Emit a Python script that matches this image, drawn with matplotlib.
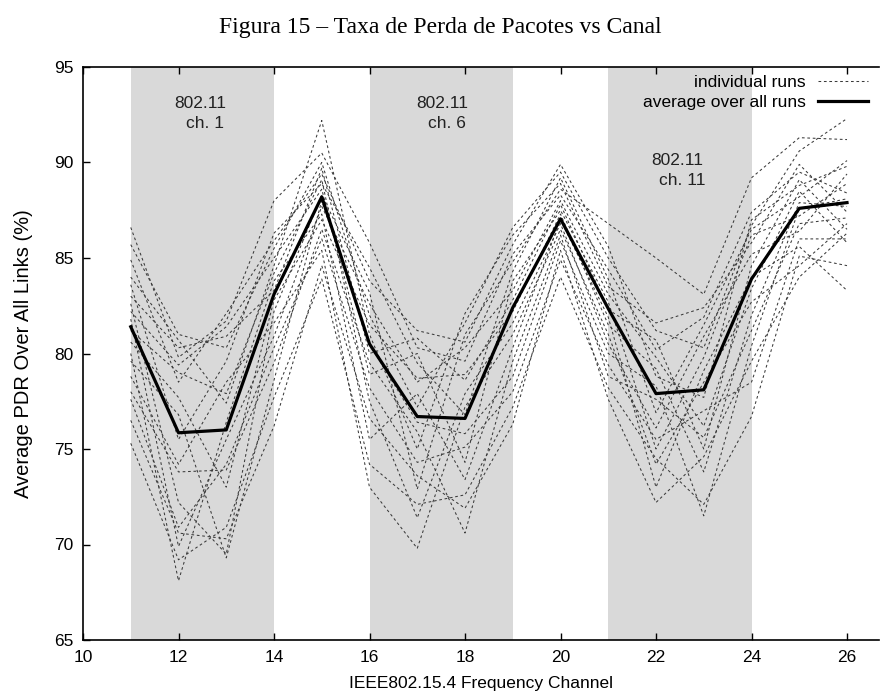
import matplotlib
matplotlib.use("Agg")
import matplotlib.pyplot as plt

# IEEE 802.15.4 channels on the x axis
channels = list(range(11, 27))

# PDR (%) of every single run, one row per run
runs = [
    [86.6, 79.8, 81.7, 88.0, 90.5, 85.8, 80.3, 79.6, 85.2, 88.3, 84.4, 80.2, 81.9, 87.4, 89.5, 88.4],
    [85.7, 81.0, 80.3, 85.5, 90.0, 82.0, 77.2, 81.6, 86.6, 89.5, 85.0, 81.2, 80.3, 86.7, 90.6, 92.3],
    [84.9, 78.5, 82.1, 85.9, 89.4, 83.8, 81.2, 80.6, 85.7, 89.9, 85.6, 78.8, 77.7, 87.0, 88.8, 89.8],
    [84.0, 80.7, 77.4, 84.6, 92.2, 81.0, 75.0, 82.1, 86.2, 88.9, 83.5, 81.6, 82.4, 85.8, 89.9, 87.4],
    [83.6, 75.5, 79.6, 86.3, 88.9, 84.5, 79.5, 76.8, 84.3, 89.2, 83.9, 76.9, 81.5, 86.5, 88.2, 90.1],
    [83.0, 80.3, 80.9, 83.3, 89.7, 80.0, 80.8, 78.6, 82.8, 87.8, 82.3, 80.7, 75.0, 84.6, 89.1, 86.5],
    [82.6, 72.2, 69.5, 82.2, 88.3, 83.2, 72.9, 81.0, 84.8, 88.6, 86.8, 85.0, 83.1, 89.2, 91.3, 91.2],
    [82.2, 79.4, 81.4, 85.0, 88.6, 78.9, 80.0, 74.3, 83.8, 87.5, 82.7, 75.0, 79.8, 86.2, 87.2, 88.9],
    [81.8, 69.9, 75.5, 80.9, 87.7, 82.6, 78.5, 80.3, 83.3, 88.0, 83.1, 79.8, 76.2, 83.4, 88.5, 85.8],
    [81.2, 79.0, 77.9, 84.2, 89.1, 77.5, 71.4, 77.9, 81.6, 86.8, 80.5, 76.1, 80.9, 85.2, 86.4, 89.4],
    [80.6, 77.7, 73.0, 82.8, 87.0, 81.5, 78.7, 78.9, 82.2, 87.3, 81.5, 79.2, 73.8, 82.0, 87.9, 87.7],
    [80.0, 68.1, 76.4, 83.8, 87.3, 75.5, 77.9, 73.4, 80.3, 87.0, 81.9, 73.0, 79.1, 84.0, 85.6, 83.3],
    [79.6, 76.8, 69.3, 78.6, 88.0, 80.5, 76.4, 75.8, 78.8, 85.9, 80.0, 78.3, 71.5, 80.4, 87.6, 88.1],
    [78.8, 74.2, 78.5, 81.6, 85.4, 73.0, 69.8, 77.2, 81.0, 86.5, 81.0, 74.2, 78.5, 82.7, 84.6, 86.8],
    [78.0, 73.8, 73.9, 79.5, 86.5, 79.5, 75.9, 70.6, 79.6, 86.2, 78.8, 77.6, 75.6, 81.2, 86.8, 87.1],
    [77.6, 70.9, 74.2, 80.3, 86.0, 78.2, 74.3, 75.1, 78.0, 84.9, 79.4, 75.5, 77.0, 78.5, 86.0, 86.0],
    [76.5, 70.6, 70.3, 76.2, 84.6, 76.6, 73.6, 71.9, 76.3, 85.4, 77.6, 72.2, 74.6, 79.6, 84.0, 86.3],
    [75.3, 69.2, 70.9, 77.7, 83.9, 74.2, 72.1, 72.6, 77.2, 84.0, 78.2, 74.5, 72.1, 76.7, 85.1, 84.6],
]

# average over all runs
average = [81.4, 75.85, 76.0, 83.1, 88.2, 80.5, 76.7, 76.6, 82.4, 87.05,
           82.35, 77.9, 78.1, 83.9, 87.6, 87.9]

# 802.11 channels and the 802.15.4 range they overlap
wifi_labels = ["ch. 1", "ch. 6", "ch. 11"]
wifi_start = [11, 16, 21]
wifi_end = [14, 19, 24]
wifi_text_x = [12.45, 17.52, 22.45]
wifi_text_y = [93.1, 93.1, 90.1]

xticks = list(range(10, 27, 2))
yticks = list(range(65, 96, 5))

sans = "Liberation Sans"
fs = 12.5

fig = plt.figure(figsize=(8.8, 6.93), dpi=100)
ax = fig.add_axes([83 / 880, 53 / 693, 796 / 880, 573 / 693])

for s, e in zip(wifi_start, wifi_end):
    ax.axvspan(s, e, color="#d9d9d9", lw=0, zorder=0)

for tx, ty, lab in zip(wifi_text_x, wifi_text_y, wifi_labels):
    ax.text(tx, ty, "802.11", ha="center", va="center", fontsize=fs,
            family=sans, color="#222222", zorder=1)
    ax.text(tx + 0.1, ty - 1.05, lab, ha="center", va="center", fontsize=fs,
            family=sans, color="#222222", zorder=1)

for i, r in enumerate(runs):
    ax.plot(channels, r, color="#3a3a3a", lw=0.75, dashes=(2.6, 2.6), zorder=2,
            label="individual runs" if i == 0 else None)

ax.plot(channels, average, color="black", lw=2.3, zorder=3,
        label="average over all runs")

ax.set_xlim(10, 26.67)
ax.set_ylim(65, 95)
ax.set_xticks(xticks)
ax.set_yticks(yticks)
ax.tick_params(direction="in", top=True, right=False, length=5, width=1,
               labelsize=fs, pad=7)
for lbl in ax.get_xticklabels() + ax.get_yticklabels():
    lbl.set_family(sans)
ax.spines["right"].set_visible(False)
for sp in ["left", "bottom", "top"]:
    ax.spines[sp].set_linewidth(1.2)

ax.set_xlabel("IEEE802.15.4 Frequency Channel", fontsize=fs, family=sans,
              labelpad=8)
ax.set_ylabel("Average PDR Over All Links (%)", fontsize=14.5, family=sans,
              labelpad=15)

leg = ax.legend(loc="upper right", bbox_to_anchor=(868 / 880, 1 - 75 / 693),
                bbox_transform=fig.transFigure, frameon=False, markerfirst=False,
                prop={"family": sans, "size": fs},
                handlelength=2.9, handletextpad=0.7, labelspacing=0.25,
                borderpad=0, borderaxespad=0)

fig.text(0.5, 1 - 27 / 693, "Figura 15 \u2013 Taxa de Perda de Pacotes vs Canal",
         ha="center", va="center", fontsize=17, family="Liberation Serif")

fig.savefig("out.png", dpi=100)
